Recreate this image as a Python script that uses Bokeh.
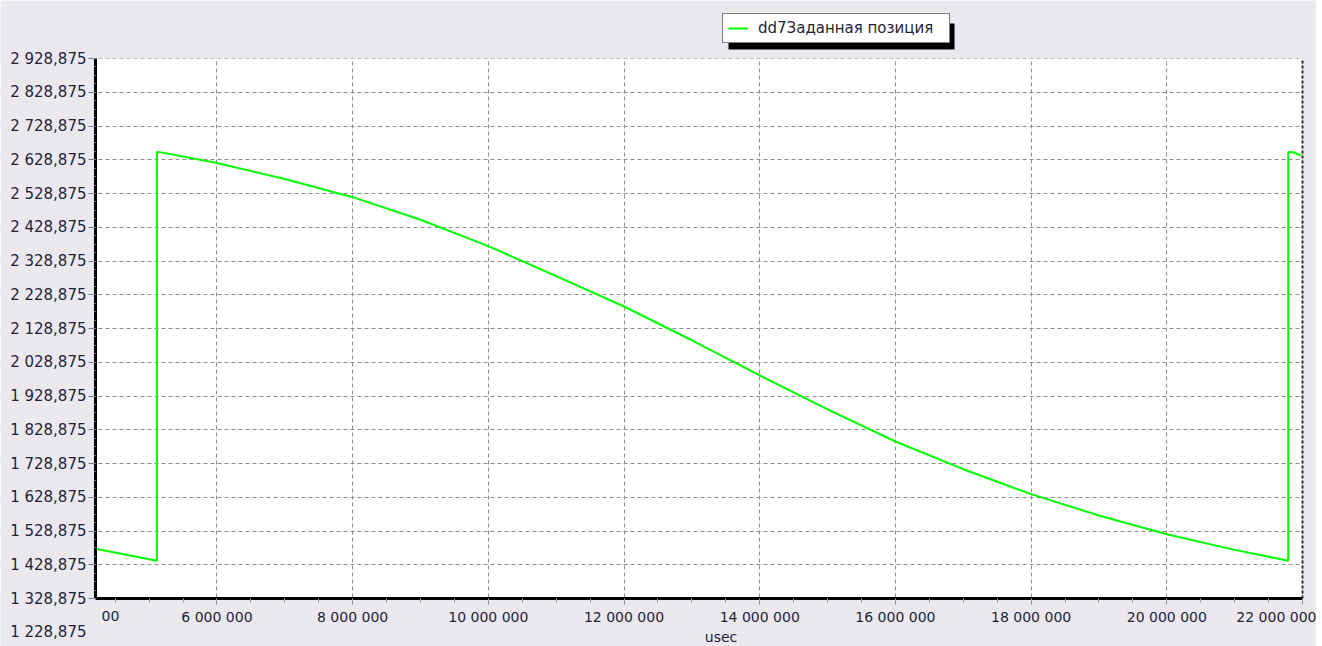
from bokeh.plotting import figure
from bokeh.models import (FixedTicker, Range1d, Legend, LegendItem, Label,
                          BoxAnnotation)
from bokeh.embed import file_html
from bokeh.resources import INLINE

# ---- data ----
time_us = [4.21e6, 5.116e6, 5.116e6, 5.2e6, 6.0e6, 7.0e6, 8.0e6, 9.0e6, 10.0e6,
           11.0e6, 12.0e6, 13.0e6, 14.0e6, 15.0e6, 16.0e6, 17.0e6, 18.0e6,
           19.0e6, 20.0e6, 21.0e6, 21.79e6, 21.79e6, 21.87e6, 21.98e6]
position = [1476, 1441, 2652, 2650, 2619, 2572, 2518, 2451, 2373,
            2284, 2194, 2094, 1990, 1889, 1794, 1712, 1638,
            1575, 1519, 1473, 1441, 2652, 2651, 2641]
series_name = "dd7Заданная позиция"

x_ticks = [6e6, 8e6, 10e6, 12e6, 14e6, 16e6, 18e6, 20e6, 22e6]
x_tick_labels = ["6 000 000", "8 000 000", "10 000 000", "12 000 000", "14 000 000",
                 "16 000 000", "18 000 000", "20 000 000", "22 000 000"]
y_ticks = [1328.875, 1428.875, 1528.875, 1628.875, 1728.875, 1828.875, 1928.875,
           2028.875, 2128.875, 2228.875, 2328.875, 2428.875, 2528.875, 2628.875,
           2728.875, 2828.875, 2928.875]
y_tick_labels = ["1 328,875", "1 428,875", "1 528,875", "1 628,875", "1 728,875",
                 "1 828,875", "1 928,875", "2 028,875", "2 128,875", "2 228,875",
                 "2 328,875", "2 428,875", "2 528,875", "2 628,875", "2 728,875",
                 "2 828,875", "2 928,875"]
extra_y_tick = 1228.875
extra_y_label = "1 228,875"
clipped_x_label = "00"
x_axis_title = "usec"

# visible plot area (data) and its pixel placement on the canvas
X0, X1 = 4.21e6, 22.0e6
Y0, Y1 = 1328.875, 2928.875
W, H = 1316, 646
AREA_L, AREA_R, AREA_T, AREA_B = 95, 1302, 58, 598   # canvas px

kx = (X1 - X0) / (AREA_R - AREA_L)
ky = (Y1 - Y0) / (AREA_B - AREA_T)
x_range = Range1d(X0 - AREA_L * kx, X1 + (W - AREA_R) * kx)
y_range = Range1d(Y0 - (H - AREA_B) * ky, Y1 + AREA_T * ky)

BG = "#ebe9ee"
TXT = "#1f1f3a"
FONT = "DejaVu Sans"
FS = "15px"
FSX = "14px"
GRID = "#8c8c8c"

p = figure(width=W, height=H, output_backend="svg", toolbar_location=None,
           x_range=x_range, y_range=y_range,
           min_border=0, min_border_left=0, min_border_right=0,
           min_border_top=0, min_border_bottom=0)
p.title.visible = False
p.border_fill_color = BG
p.background_fill_color = "white"
p.outline_line_color = None

# grid (lowest level, so the grey surround can hide it outside the plot area)
for g in (p.xgrid[0], p.ygrid[0]):
    g.grid_line_color = GRID
    g.grid_line_dash = "4 3"
    g.grid_line_width = 1
    g.level = "image"

# grey surround of the plot area
for kw in (dict(bottom=Y1), dict(top=Y0), dict(right=X0), dict(left=X1)):
    p.add_layout(BoxAnnotation(fill_color=BG, fill_alpha=1.0, line_color=None,
                               level="underlay", **kw))

# axes placed at the edges of the plot area
xa = p.xaxis[0]
ya = p.yaxis[0]
xa.fixed_location = Y0
ya.fixed_location = X0
xa.bounds = (X0, X1)
ya.bounds = (Y0, Y1)
xa.ticker = FixedTicker(ticks=x_ticks,
                        minor_ticks=[4.5e6 + 0.5e6 * i for i in range(36)])
xa.major_label_overrides = {t: l for t, l in zip(x_ticks, x_tick_labels)}
ya.ticker = FixedTicker(ticks=y_ticks,
                        minor_ticks=[Y0 + 25 * i for i in range(65)])
ya.major_label_overrides = {t: l for t, l in zip(y_ticks, y_tick_labels)}

for ax in (xa, ya):
    ax.axis_line_color = "black"
    ax.axis_line_width = 3
    ax.major_tick_line_color = "#808080"
    ax.minor_tick_line_color = "#9a9a9a"
    ax.major_tick_in = 0
    ax.minor_tick_in = 0
    ax.major_label_text_font = FONT
    ax.major_label_text_color = TXT
xa.major_label_text_font_size = FSX
ya.major_label_text_font_size = FS
xa.major_tick_out = 6
xa.minor_tick_out = 4
xa.major_label_standoff = 4
ya.major_tick_out = 7
ya.minor_tick_out = 2
ya.major_label_standoff = 2

# right border of the plot area (dashed dark)
p.segment(x0=[X1], y0=[Y0], x1=[X1], y1=[Y1], line_color="#303030",
          line_width=2, line_dash="3 2")

# data line
r = p.line(time_us, position, line_color="#00ff00", line_width=2)

# texts that the reference shows around the plot area
p.add_layout(Label(x=X0, y=extra_y_tick, text=extra_y_label, x_offset=-9,
                   text_align="right", text_baseline="middle",
                   text_font=FONT, text_font_size=FS, text_color=TXT))
p.add_layout(Label(x=X0, y=Y0, text=clipped_x_label, x_offset=6, y_offset=-17,
                   text_align="left", text_baseline="middle",
                   text_font=FONT, text_font_size=FSX, text_color=TXT))
p.add_layout(Label(x=(X0 + X1) / 2, y=Y0, text=x_axis_title, x_offset=22,
                   y_offset=-38, text_align="center", text_baseline="middle",
                   text_font=FONT, text_font_size=FSX, text_color=TXT))

# legend with drop shadow (screen units from the canvas bottom-left)
p.add_layout(BoxAnnotation(left=728, right=954, top=H - 23, bottom=H - 49,
                           left_units="screen", right_units="screen",
                           top_units="screen", bottom_units="screen",
                           fill_color="black", fill_alpha=1.0, line_color=None))
legend = Legend(items=[LegendItem(label=series_name, renderers=[r])],
                location=(722, H - 43), orientation="vertical",
                padding=5, margin=0, spacing=0, glyph_width=20, glyph_height=16,
                label_standoff=10, label_width=186, label_height=16,
                border_line_color="black", border_line_width=1,
                background_fill_color="white", background_fill_alpha=1.0,
                label_text_font=FONT, label_text_font_size=FS,
                label_text_color=TXT)
p.add_layout(legend, "center")

open("out.html", "w").write(file_html(p, INLINE))
